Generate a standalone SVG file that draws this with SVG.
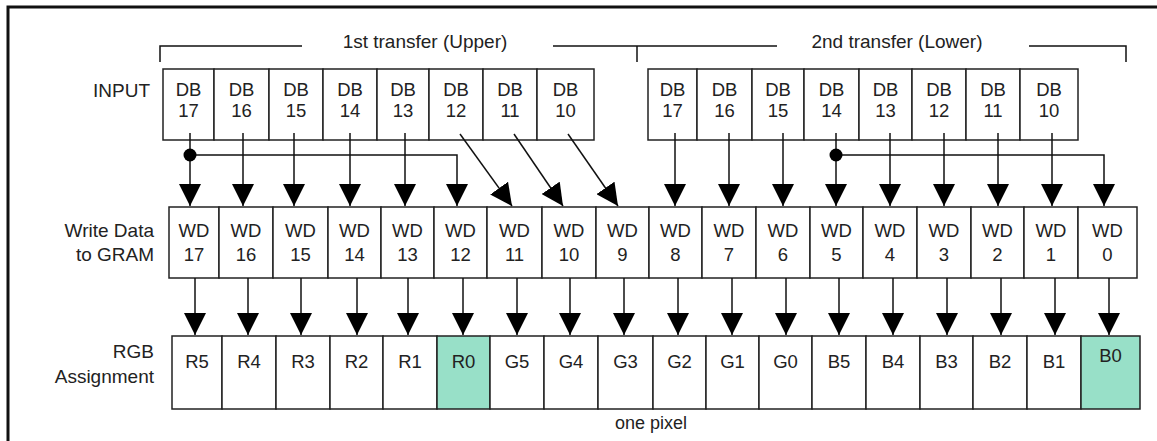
<svg xmlns="http://www.w3.org/2000/svg" width="1157" height="441" viewBox="0 0 1157 441">
<style>
text{font-family:"Liberation Sans",Arial,sans-serif;fill:#222;}
.lbl{font-size:19px;text-anchor:end;}
.ttl{font-size:19px;text-anchor:middle;}
.c{font-size:18.5px;text-anchor:middle;}
.cell{fill:#fff;stroke:#222;stroke-width:1.5;}
.hi{fill:#98e0c8;stroke:#222;stroke-width:1.5;}
.ln{fill:none;stroke:#111;stroke-width:1.5;}
.arr{fill:none;stroke:#111;stroke-width:1.5;marker-end:url(#ah);}
</style>
<defs>
<marker id="ah" markerUnits="userSpaceOnUse" viewBox="0 0 22 22" markerWidth="22" markerHeight="22" refX="22" refY="11" orient="auto">
<path d="M0,0 L22,11 L0,22 Z" fill="#000"/>
</marker>
</defs>
<rect width="1157" height="441" fill="#fff"/>
<path d="M8,441 V7 H1157" fill="none" stroke="#111" stroke-width="3"/>

<g id="brackets">
<path class="ln" d="M160,62 V46 H302"/>
<path class="ln" d="M553,46 H777"/>
<path class="ln" d="M637,46 V62"/>
<path class="ln" d="M1029,46 H1126 V62"/>
<text class="ttl" x="425" y="48">1st transfer (Upper)</text>
<text class="ttl" x="897" y="48">2nd transfer (Lower)</text>
</g>

<g id="row-labels">
<text class="lbl" x="150" y="97">INPUT</text>
<text class="lbl" x="154" y="237">Write Data</text>
<text class="lbl" x="154" y="261">to GRAM</text>
<text class="lbl" x="154" y="358">RGB</text>
<text class="lbl" x="154" y="383">Assignment</text>
<text class="ttl" x="651" y="429" style="font-size:18px">one pixel</text>
</g>

<g id="input-upper">
<g id="db17u"><rect class="cell" x="163" y="69" width="51" height="71"/><text class="c" x="188.5" y="96">DB</text><text class="c" x="188.5" y="117">17</text></g>
<g id="db16u"><rect class="cell" x="214" y="69" width="55" height="71"/><text class="c" x="241.5" y="96">DB</text><text class="c" x="241.5" y="117">16</text></g>
<g id="db15u"><rect class="cell" x="269" y="69" width="54" height="71"/><text class="c" x="296" y="96">DB</text><text class="c" x="296" y="117">15</text></g>
<g id="db14u"><rect class="cell" x="323" y="69" width="54" height="71"/><text class="c" x="350" y="96">DB</text><text class="c" x="350" y="117">14</text></g>
<g id="db13u"><rect class="cell" x="377" y="69" width="52" height="71"/><text class="c" x="403" y="96">DB</text><text class="c" x="403" y="117">13</text></g>
<g id="db12u"><rect class="cell" x="429" y="69" width="54" height="71"/><text class="c" x="456" y="96">DB</text><text class="c" x="456" y="117">12</text></g>
<g id="db11u"><rect class="cell" x="483" y="69" width="54" height="71"/><text class="c" x="510" y="96">DB</text><text class="c" x="510" y="117">11</text></g>
<g id="db10u"><rect class="cell" x="537" y="69" width="57" height="71"/><text class="c" x="565.5" y="96">DB</text><text class="c" x="565.5" y="117">10</text></g>
</g>

<g id="input-lower">
<g id="db17l"><rect class="cell" x="648" y="69" width="49" height="71"/><text class="c" x="672.5" y="96">DB</text><text class="c" x="672.5" y="117">17</text></g>
<g id="db16l"><rect class="cell" x="697" y="69" width="55" height="71"/><text class="c" x="724.5" y="96">DB</text><text class="c" x="724.5" y="117">16</text></g>
<g id="db15l"><rect class="cell" x="752" y="69" width="52" height="71"/><text class="c" x="778" y="96">DB</text><text class="c" x="778" y="117">15</text></g>
<g id="db14l"><rect class="cell" x="804" y="69" width="55" height="71"/><text class="c" x="831.5" y="96">DB</text><text class="c" x="831.5" y="117">14</text></g>
<g id="db13l"><rect class="cell" x="859" y="69" width="53" height="71"/><text class="c" x="885.5" y="96">DB</text><text class="c" x="885.5" y="117">13</text></g>
<g id="db12l"><rect class="cell" x="912" y="69" width="54" height="71"/><text class="c" x="939" y="96">DB</text><text class="c" x="939" y="117">12</text></g>
<g id="db11l"><rect class="cell" x="966" y="69" width="54" height="71"/><text class="c" x="993" y="96">DB</text><text class="c" x="993" y="117">11</text></g>
<g id="db10l"><rect class="cell" x="1020" y="69" width="58" height="71"/><text class="c" x="1049" y="96">DB</text><text class="c" x="1049" y="117">10</text></g>
</g>

<g id="write-data">
<g id="wd17"><rect class="cell" x="169" y="207" width="50" height="71"/><text class="c" x="194" y="237">WD</text><text class="c" x="194" y="261">17</text></g>
<g id="wd16"><rect class="cell" x="219" y="207" width="54" height="71"/><text class="c" x="246" y="237">WD</text><text class="c" x="246" y="261">16</text></g>
<g id="wd15"><rect class="cell" x="273" y="207" width="55" height="71"/><text class="c" x="300.5" y="237">WD</text><text class="c" x="300.5" y="261">15</text></g>
<g id="wd14"><rect class="cell" x="328" y="207" width="53" height="71"/><text class="c" x="354.5" y="237">WD</text><text class="c" x="354.5" y="261">14</text></g>
<g id="wd13"><rect class="cell" x="381" y="207" width="53" height="71"/><text class="c" x="407.5" y="237">WD</text><text class="c" x="407.5" y="261">13</text></g>
<g id="wd12"><rect class="cell" x="434" y="207" width="53" height="71"/><text class="c" x="460.5" y="237">WD</text><text class="c" x="460.5" y="261">12</text></g>
<g id="wd11"><rect class="cell" x="487" y="207" width="55" height="71"/><text class="c" x="514.5" y="237">WD</text><text class="c" x="514.5" y="261">11</text></g>
<g id="wd10"><rect class="cell" x="542" y="207" width="54" height="71"/><text class="c" x="569" y="237">WD</text><text class="c" x="569" y="261">10</text></g>
<g id="wd9"><rect class="cell" x="596" y="207" width="53" height="71"/><text class="c" x="622.5" y="237">WD</text><text class="c" x="622.5" y="261">9</text></g>
<g id="wd8"><rect class="cell" x="649" y="207" width="53" height="71"/><text class="c" x="675.5" y="237">WD</text><text class="c" x="675.5" y="261">8</text></g>
<g id="wd7"><rect class="cell" x="702" y="207" width="54" height="71"/><text class="c" x="729" y="237">WD</text><text class="c" x="729" y="261">7</text></g>
<g id="wd6"><rect class="cell" x="756" y="207" width="54" height="71"/><text class="c" x="783" y="237">WD</text><text class="c" x="783" y="261">6</text></g>
<g id="wd5"><rect class="cell" x="810" y="207" width="53" height="71"/><text class="c" x="836.5" y="237">WD</text><text class="c" x="836.5" y="261">5</text></g>
<g id="wd4"><rect class="cell" x="863" y="207" width="54" height="71"/><text class="c" x="890" y="237">WD</text><text class="c" x="890" y="261">4</text></g>
<g id="wd3"><rect class="cell" x="917" y="207" width="54" height="71"/><text class="c" x="944" y="237">WD</text><text class="c" x="944" y="261">3</text></g>
<g id="wd2"><rect class="cell" x="971" y="207" width="53" height="71"/><text class="c" x="997.5" y="237">WD</text><text class="c" x="997.5" y="261">2</text></g>
<g id="wd1"><rect class="cell" x="1024" y="207" width="54" height="71"/><text class="c" x="1051" y="237">WD</text><text class="c" x="1051" y="261">1</text></g>
<g id="wd0"><rect class="cell" x="1078" y="207" width="59" height="71"/><text class="c" x="1107.5" y="237">WD</text><text class="c" x="1107.5" y="261">0</text></g>
</g>

<g id="rgb">
<g id="r5"><rect class="cell" x="172" y="336" width="50" height="73"/><text class="c" x="197" y="368">R5</text></g>
<g id="r4"><rect class="cell" x="222" y="336" width="54" height="73"/><text class="c" x="249" y="368">R4</text></g>
<g id="r3"><rect class="cell" x="276" y="336" width="54" height="73"/><text class="c" x="303" y="368">R3</text></g>
<g id="r2"><rect class="cell" x="330" y="336" width="53" height="73"/><text class="c" x="356.5" y="368">R2</text></g>
<g id="r1"><rect class="cell" x="383" y="336" width="54" height="73"/><text class="c" x="410" y="368">R1</text></g>
<g id="r0"><rect class="hi" x="437" y="336" width="53" height="73"/><text class="c" x="463.5" y="368">R0</text></g>
<g id="g5"><rect class="cell" x="490" y="336" width="54" height="73"/><text class="c" x="517" y="368">G5</text></g>
<g id="g4"><rect class="cell" x="544" y="336" width="54" height="73"/><text class="c" x="571" y="368">G4</text></g>
<g id="g3"><rect class="cell" x="598" y="336" width="55" height="73"/><text class="c" x="625.5" y="368">G3</text></g>
<g id="g2"><rect class="cell" x="653" y="336" width="53" height="73"/><text class="c" x="679.5" y="368">G2</text></g>
<g id="g1"><rect class="cell" x="706" y="336" width="53" height="73"/><text class="c" x="732.5" y="368">G1</text></g>
<g id="g0"><rect class="cell" x="759" y="336" width="53" height="73"/><text class="c" x="785.5" y="368">G0</text></g>
<g id="b5"><rect class="cell" x="812" y="336" width="54" height="73"/><text class="c" x="839" y="368">B5</text></g>
<g id="b4"><rect class="cell" x="866" y="336" width="54" height="73"/><text class="c" x="893" y="368">B4</text></g>
<g id="b3"><rect class="cell" x="920" y="336" width="53" height="73"/><text class="c" x="946.5" y="368">B3</text></g>
<g id="b2"><rect class="cell" x="973" y="336" width="54" height="73"/><text class="c" x="1000" y="368">B2</text></g>
<g id="b1"><rect class="cell" x="1027" y="336" width="54" height="73"/><text class="c" x="1054" y="368">B1</text></g>
<g id="b0"><rect class="hi" x="1081" y="336" width="59" height="73"/><text class="c" x="1110.5" y="362">B0</text></g>
</g>

<g id="connectors">
<path class="arr" d="M190,133 V206"/>
<path class="arr" d="M243,133 V206"/>
<path class="arr" d="M294,133 V206"/>
<path class="arr" d="M350,133 V206"/>
<path class="arr" d="M405,133 V206"/>
<path class="arr" d="M190,155 H457 V206"/>
<circle cx="190" cy="155" r="6.5" fill="#000"/>
<path class="arr" d="M460,134 L512,206"/>
<path class="arr" d="M514,134 L563,206"/>
<path class="arr" d="M568,134 L618,206"/>
<path class="arr" d="M675,133 V206"/>
<path class="arr" d="M729,133 V206"/>
<path class="arr" d="M783,133 V206"/>
<path class="arr" d="M836,133 V206"/>
<path class="arr" d="M890,133 V206"/>
<path class="arr" d="M944,133 V206"/>
<path class="arr" d="M998,133 V206"/>
<path class="arr" d="M1052,133 V206"/>
<path class="arr" d="M836,155 H1104 V206"/>
<circle cx="836" cy="155" r="6.5" fill="#000"/>
<path class="arr" d="M195,278 V335"/>
<path class="arr" d="M248,278 V335"/>
<path class="arr" d="M301,278 V335"/>
<path class="arr" d="M357,278 V335"/>
<path class="arr" d="M408,278 V335"/>
<path class="arr" d="M463,278 V335"/>
<path class="arr" d="M517,278 V335"/>
<path class="arr" d="M570,278 V335"/>
<path class="arr" d="M624,278 V335"/>
<path class="arr" d="M678,278 V335"/>
<path class="arr" d="M732,278 V335"/>
<path class="arr" d="M786,278 V335"/>
<path class="arr" d="M839,278 V335"/>
<path class="arr" d="M893,278 V335"/>
<path class="arr" d="M947,278 V335"/>
<path class="arr" d="M1001,278 V335"/>
<path class="arr" d="M1055,278 V335"/>
<path class="arr" d="M1109,278 V335"/>
</g>
</svg>
